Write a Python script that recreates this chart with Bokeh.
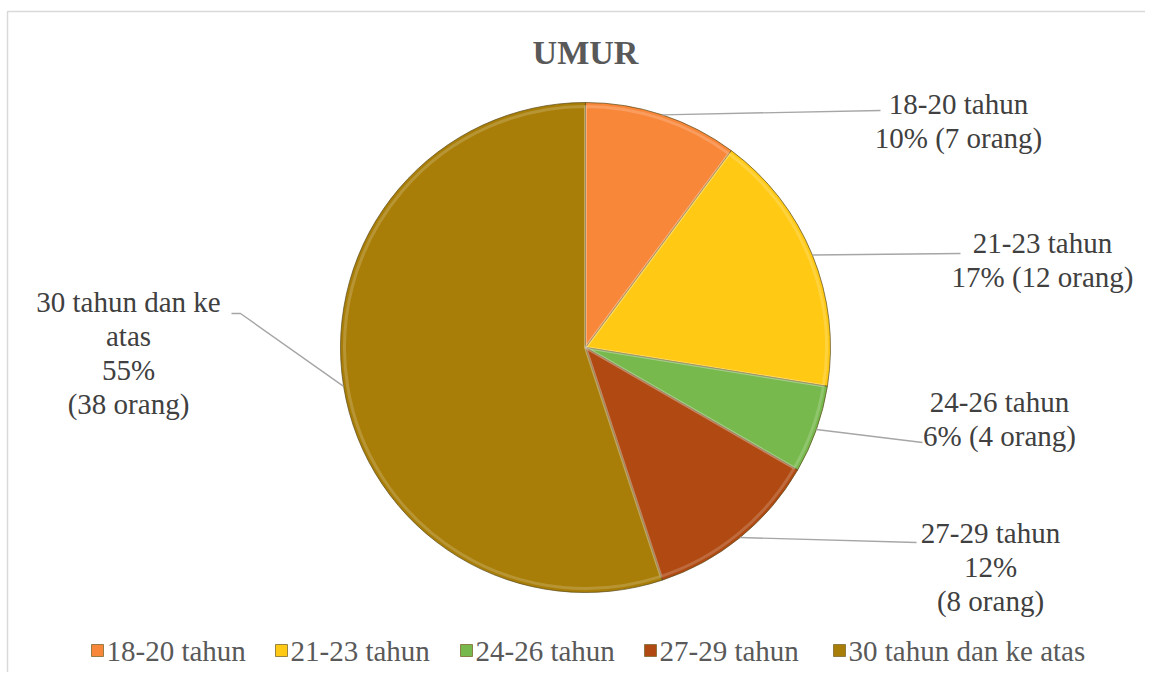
import math
from bokeh.plotting import figure
from bokeh.models import Range1d, ColumnDataSource
from bokeh.core.properties import value
from bokeh.embed import file_html
from bokeh.resources import INLINE

# ---- data ----
categories = ["18-20 tahun", "21-23 tahun", "24-26 tahun", "27-29 tahun", "30 tahun dan ke atas"]
counts = [7, 12, 4, 8, 38]
colors = ["#F8873A", "#FFC914", "#77B94C", "#B04A12", "#A97E08"]
title_text = "UMUR"

# label wrapping per slice (layout of the data labels)
label_templates = [
    "{cat}\n{pct}% ({n} orang)",
    "{cat}\n{pct}% ({n} orang)",
    "{cat}\n{pct}% ({n} orang)",
    "{cat}\n{pct}%\n({n} orang)",
    "30 tahun dan ke\natas\n{pct}%\n({n} orang)",
]
# label anchor (screen px): text centre x, first line centre y, leader end points
label_cx = [958, 1042, 999, 990, 128]
label_y0 = [103, 242, 401, 532, 301]
leader_ends = [[(880, 110)], [(960, 253)], [(922, 442)], [(916, 542)], [(240, 313), (231, 313)]]

W, H = 1145, 672
CX, CY, R = 585, 347, 245  # screen coordinates of pie


def sy(y):
    return H - y


total = sum(counts)
fracs = [c / total for c in counts]
cum = [0]
for f in fracs:
    cum.append(cum[-1] + f)
starts = [math.pi / 2 - 2 * math.pi * cum[i] for i in range(len(counts))]
ends = [math.pi / 2 - 2 * math.pi * cum[i + 1] for i in range(len(counts))]
pcts = [round(f * 100) for f in fracs]

p = figure(width=W, height=H, output_backend="svg", toolbar_location=None,
           x_range=Range1d(0, W), y_range=Range1d(0, H),
           min_border=0, min_border_left=0, min_border_right=0,
           min_border_top=0, min_border_bottom=0)
p.axis.visible = False
p.grid.visible = False
p.outline_line_color = None
p.background_fill_color = "white"
p.border_fill_color = "white"

# chart border
p.line(x=[7, 7, W], y=[0, sy(11), sy(11)], line_color="#D9D9D9", line_width=1.5)

# pie
src = ColumnDataSource(dict(start=starts, end=ends, color=colors, cat=categories))
p.wedge(x=CX, y=sy(CY), radius=R, start_angle="start", end_angle="end",
        direction="clock", fill_color="color", line_color="#5a4a1a",
        line_width=1.0, line_alpha=0.7, source=src)
# subtle bevel highlight
p.wedge(x=CX, y=sy(CY), radius=R - 4, start_angle="start", end_angle="end",
        direction="clock", fill_color=None, line_color="white",
        line_width=3, line_alpha=0.18, source=src)

# leader lines
for i in range(len(counts)):
    mid = (cum[i] + cum[i + 1]) / 2 * 2 * math.pi
    x0 = CX + R * math.sin(mid)
    y0 = CY - R * math.cos(mid)
    xs = [x0] + [e[0] for e in leader_ends[i]]
    ys = [sy(y0)] + [sy(e[1]) for e in leader_ends[i]]
    p.line(x=xs, y=ys, line_color="#A6A6A6", line_width=1.4)

# data labels
for i in range(len(counts)):
    txt = label_templates[i].format(cat=categories[i], pct=pcts[i], n=counts[i])
    for j, line in enumerate(txt.split("\n")):
        p.text(x=[label_cx[i]], y=[sy(label_y0[i] + j * 34)], text=[line],
               text_align="center", text_baseline="middle",
               text_font=value("Liberation Serif"), text_font_size="29px",
               text_color="#404040")

# title
p.text(x=[585], y=[sy(52)], text=[title_text], text_align="center",
       text_baseline="middle", text_font=value("Liberation Serif"),
       text_font_size="34px", text_font_style="bold", text_color="#595959")

# legend
leg_x = [97, 281, 466, 650, 839]
leg_y = 650
p.rect(x=leg_x, y=[sy(leg_y)] * 5, width=12, height=12, fill_color=colors,
       line_color="#7f6a30", line_width=0.8)
p.text(x=[x + 9 for x in leg_x], y=[sy(leg_y)] * 5, text=categories,
       text_align="left", text_baseline="middle",
       text_font=value("Liberation Serif"), text_font_size="29px",
       text_color="#595959")

open("out.html", "w").write(file_html(p, INLINE))
